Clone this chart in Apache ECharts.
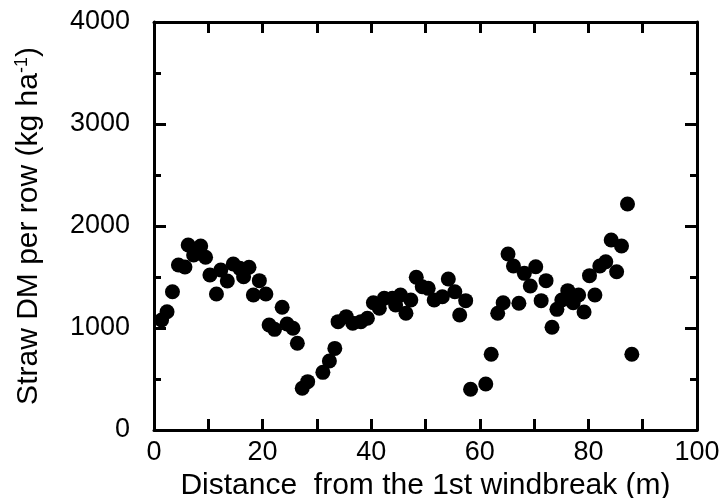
<!DOCTYPE html>
<html>
<head>
<meta charset="utf-8">
<script src="https://cdn.jsdelivr.net/npm/echarts@6/dist/echarts.min.js"></script>
<style>
  html, body { margin: 0; padding: 0; background: #fff; }
  #chart { width: 722px; height: 498px; }
</style>
</head>
<body>
<div id="chart"></div>
<script>
// distance from the 1st windbreak (m)
const distance = [
  1.4, 2.4, 3.4, 4.5, 5.7, 6.3, 7.3, 8.6, 9.5, 10.3,
  11.5, 12.3, 13.5, 14.6, 15.8, 16.5, 17.5, 18.3, 19.4, 20.6,
  21.2, 22.2, 23.6, 24.5, 25.6, 26.4, 27.3, 28.3, 31.1, 32.3,
  33.3, 33.9, 35.4, 36.6, 38.1, 39.3, 40.4, 41.5, 42.4, 43.9,
  44.5, 45.4, 46.4, 47.3, 48.3, 49.4, 50.5, 51.6, 53.1, 54.2,
  55.4, 56.3, 57.4, 58.3, 61.1, 62.1, 63.3, 64.3, 65.2, 66.2,
  67.2, 68.2, 69.3, 70.3, 71.3, 72.2, 73.3, 74.2, 75.1, 76.2,
  77.2, 78.2, 79.2, 80.2, 81.2, 82.1, 83.2, 84.2, 85.2, 86.1,
  87.2, 88.0
];
// straw DM per row (kg/ha)
const strawDM = [
  1078, 1160, 1356, 1618, 1598, 1814, 1716, 1804, 1693, 1520,
  1333, 1569, 1461, 1627, 1585, 1503, 1595, 1323, 1464, 1333,
  1029, 987, 1203, 1039, 997, 850, 409, 474, 565, 676,
  800, 1062, 1111, 1046, 1062, 1095, 1248, 1193, 1291, 1291,
  1225, 1323, 1144, 1274, 1497, 1405, 1389, 1274, 1307, 1480,
  1356, 1127, 1268, 399, 451, 742, 1144, 1248, 1725, 1608,
  1242, 1536, 1412, 1601, 1268, 1464, 1007, 1183, 1274, 1366,
  1248, 1323, 1157, 1513, 1323, 1608, 1650, 1863, 1552, 1804,
  2216, 742
];
const xTicks = [0, 20, 40, 60, 80, 100];
const yTicks = [0, 1000, 2000, 3000, 4000];

const points = distance.map((d, i) => [d, strawDM[i]]);

const FONT = "'Liberation Sans', Arial, sans-serif";
const lineStyle = { color: '#000', width: 3 };
const tickStyle = { color: '#000', width: 3 };

// frame axes: same scale, no labels, ticks pointing inward
function frameX(pos) {
  return {
    type: 'value', position: pos, min: xTicks[0], max: xTicks[xTicks.length - 1], interval: 20,
    axisLine: { show: true, onZero: false, lineStyle },
    axisTick: { show: true, inside: true, length: 11, lineStyle: tickStyle },
    minorTick: { show: true, splitNumber: 2, length: 11, lineStyle: tickStyle },
    axisLabel: { show: false },
    splitLine: { show: false }
  };
}
function frameY(pos) {
  return {
    type: 'value', position: pos, min: yTicks[0], max: yTicks[yTicks.length - 1], interval: 1000,
    axisLine: { show: true, onZero: false, lineStyle },
    axisTick: { show: true, inside: true, length: 12, lineStyle: tickStyle },
    minorTick: { show: true, splitNumber: 2, length: 7, lineStyle: tickStyle },
    axisLabel: { show: false },
    splitLine: { show: false }
  };
}

const bottomX = Object.assign(frameX('bottom'), {
  name: 'Distance  from the 1st windbreak (m)',
  nameLocation: 'middle', nameGap: 34,
  nameTextStyle: { color: '#000', fontFamily: FONT, fontSize: 30 },
  axisLabel: { show: true, color: '#000', fontFamily: FONT, fontSize: 27, margin: 9 }
});
const leftY = Object.assign(frameY('left'), {
  name: '{t|Straw DM per row (kg ha}{s|-1}{t|)}',
  nameLocation: 'middle', nameGap: 109, nameRotate: 90,
  nameTextStyle: {
    rich: {
      t: { color: '#000', fontFamily: FONT, fontSize: 30 },
      s: { color: '#000', fontFamily: FONT, fontSize: 18, verticalAlign: 'top', padding: [0, 0, 14, 0] }
    }
  },
  axisLabel: { show: true, color: '#000', fontFamily: FONT, fontSize: 27, margin: 24, formatter: v => String(v) }
});

const chart = echarts.init(document.getElementById('chart'));

chart.setOption({
  animation: false,
  backgroundColor: '#fff',
  grid: { left: 154, right: 25, top: 22, bottom: 68, containLabel: false, outerBoundsMode: 'none' },
  xAxis: [bottomX, frameX('top')],
  yAxis: [leftY, frameY('right')],
  series: [
    {
      type: 'scatter',
      data: points,
      symbol: 'circle',
      symbolSize: 15,
      itemStyle: { color: '#000', opacity: 1 }
    }
  ]
});
</script>
</body>
</html>
